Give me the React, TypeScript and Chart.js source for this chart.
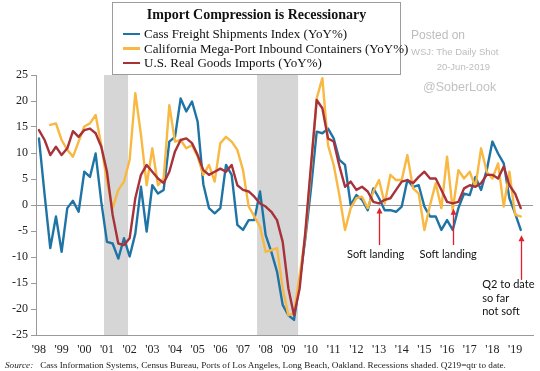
import React, { useEffect, useRef } from "react";
import { Chart, registerables } from "chart.js";

Chart.register(...registerables);

// Quarterly observations, 1998Q1 .. 2019Q2
const START_YEAR = 1998;
const QUARTER_COUNT = 86;
const quarterX: number[] = Array.from({ length: QUARTER_COUNT }, (_, i) => START_YEAR + i / 4);

const yearTicks: number[] = [1998, 1999, 2000, 2001, 2002, 2003, 2004, 2005, 2006, 2007, 2008, 2009, 2010, 2011, 2012, 2013, 2014, 2015, 2016, 2017, 2018, 2019];
const yTicks: number[] = [-25, -20, -15, -10, -5, 0, 5, 10, 15, 20, 25];

const cassFreight: (number | null)[] = [
  12.8, 2, -8.3, -2.2, -9, -0.6, 0.8, -1.3, 6.4, 5.4,
  9.9, 0.6, -7.1, -7.4, -10.3, -6.4, -9.9, -5.5, 3.5, -5.1,
  3.8, 2.2, 2.9, 12.2, 13.1, 20.5, 18, 19.9, 16, 4,
  -0.6, -1.6, -0.6, 7.7, 5.8, -3.8, -4.8, -2.9, -2.9, 2.6,
  -5.8, -9, -12.8, -19.2, -21.2, -22.1, -14.7, -6.4, 3.2, 14.1,
  13.8, 14.7, 12.8, 8.7, 7.7, 0, 1.9, 1, -1, 3.2,
  1.3, -1, -1, -1.3, -0.3, 4.8, 3.5, 3.8, -0.3, -2.2,
  -2.2, -4.8, -2.9, -4.8, -0.6, 2.2, 1.9, 5.4, 2.9, 6.7,
  12.2, 9.9, 8, 1.3, -1.6, -4.8,
];

const megaPort: (number | null)[] = [
  null, null, 15.4, 15.7, 12.5, 10.6, 9.3, 12.2, 15.1, 15.7,
  17.3, 11.5, 4.5, -0.6, 2.9, 4.5, 8.7, 21.5, 13.5, 3.8,
  10.9, 3.8, 5.1, 19.2, 12.2, 12.5, 10.9, 11.5, 9.3, 5.8,
  7.7, 4.5, 11.9, 13.1, 12.2, 10.6, 6.7, -0.3, -2.2, -4.2,
  -9, -8.7, -8.3, -16, -21.2, -20.8, -13.5, -5.8, 7, 20.5,
  24.4, 11.5, 7.7, 1.9, -4.8, -0.6, 1.3, 1.6, -0.6, 2.6,
  4.8, 0.3, 5.8, 4.8, 4.8, 9.6, 3.2, 2.2, -4.8, 0,
  4.2, -0.6, 9.3, -1, 6.7, 5.1, 6.4, 3.5, 10.9, 6.4,
  5.1, 8, -0.3, 6.4, -1.9, -2.2,
];

const realImports: (number | null)[] = [
  14.4, 12.5, 9.6, 11.2, 9.6, 10.9, 14.2, 13.1, 14.4, 14.7,
  13.8, 11.2, 6.4, -1.9, -7.4, -7.7, -6.4, 1.3, 5.8, 7.7,
  6.4, 5.1, 4.2, 6.4, 10.3, 12.5, 12.8, 11.9, 9.6, 6.7,
  5.8, 6.4, 7, 6.4, 7.7, 3.8, 2.9, 2.6, 1.6, 0.3,
  -0.3, -1.3, -2.9, -7.1, -16, -21.2, -16, -5.1, 7.7, 20.2,
  18.6, 12.8, 12.2, 7.5, 3.5, 4.5, 2.9, 3.5, 2.6, 0.6,
  0.3, 1, 1.3, 2.9, 4.5, 4.8, 4.2, 5.4, 6.4, 5.1,
  5.1, 2.9, 0.6, 0.3, 0.6, 3.2, 3.8, 3.5, 4.2, 5.8,
  5.8, 5.1, 7.4, 3.8, 2.2, -0.6,
];

const seriesNames: string[] = [
  "Cass Freight Shipments Index (YoY%)",
  "California Mega-Port Inbound Containers (YoY%)",
  "U.S. Real Goods Imports (YoY%)",
];
const seriesColors: string[] = ["#1f74a6", "#f8b842", "#a8323a"];

const recessionStart: number[] = [2000.87, 2007.62];
const recessionEnd: number[] = [2001.93, 2009.43];

const arrowX: number[] = [2013.0, 2016.26, 2019.25];
const arrowFrom: number[] = [-7.7, -7.7, -14.4];
const arrowTo: number[] = [-0.5, -0.7, -5.8];

const noteText: string[] = ["Soft landing", "Soft landing", "Q2 to date", "so far", "not soft"];
const noteX: number[] = [2012.85, 2016.05, 2017.55, 2017.55, 2017.55];
const noteY: number[] = [-9.5, -9.5, -15.2, -17.9, -20.4];
const noteAlign: CanvasTextAlign[] = ["center", "center", "left", "left", "left"];

const SERIF = "'Liberation Serif', 'DejaVu Serif', serif";
const SANS = "Lato, 'Open Sans', sans-serif";

const decorPlugin = {
  id: "decor",
  beforeDatasetsDraw(chart: any) {
    const { ctx, chartArea, scales } = chart;
    const x = scales.x;
    ctx.save();
    ctx.fillStyle = "#d6d6d6";
    recessionStart.forEach((s, i) => {
      const x0 = x.getPixelForValue(s);
      const x1 = x.getPixelForValue(recessionEnd[i]);
      ctx.fillRect(x0, chartArea.top, x1 - x0, chartArea.bottom - chartArea.top);
    });
    ctx.restore();
  },
  afterDatasetsDraw(chart: any) {
    const { ctx, scales } = chart;
    const x = scales.x;
    const y = scales.y;
    ctx.save();
    ctx.strokeStyle = "#e0202c";
    ctx.fillStyle = "#e0202c";
    ctx.lineWidth = 1.3;
    arrowX.forEach((ax, i) => {
      const px = Math.round(x.getPixelForValue(ax)) + 0.5;
      const yFrom = y.getPixelForValue(arrowFrom[i]);
      const yTo = y.getPixelForValue(arrowTo[i]);
      ctx.beginPath();
      ctx.moveTo(px, yFrom);
      ctx.lineTo(px, yTo + 4);
      ctx.stroke();
      ctx.beginPath();
      ctx.moveTo(px, yTo);
      ctx.lineTo(px - 3, yTo + 6);
      ctx.lineTo(px + 3, yTo + 6);
      ctx.closePath();
      ctx.fill();
    });
    ctx.fillStyle = "#111";
    ctx.font = `11px ${SANS}`;
    ctx.textBaseline = "middle";
    noteText.forEach((t, i) => {
      ctx.textAlign = noteAlign[i];
      ctx.fillText(t, x.getPixelForValue(noteX[i]), y.getPixelForValue(noteY[i]));
    });
    ctx.restore();
  },
};

export default function App() {
  const canvasRef = useRef<HTMLCanvasElement | null>(null);

  useEffect(() => {
    document.body.style.margin = "0";
    const canvas = canvasRef.current;
    if (!canvas) return;
    const mk = (vals: (number | null)[]) => quarterX.map((qx, i) => ({ x: qx, y: vals[i] }));
    const chart = new Chart(canvas, {
      type: "line",
      data: {
        datasets: [
          { label: seriesNames[2], data: mk(realImports) as any, borderColor: seriesColors[2] },
          { label: seriesNames[1], data: mk(megaPort) as any, borderColor: seriesColors[1] },
          { label: seriesNames[0], data: mk(cassFreight) as any, borderColor: seriesColors[0] },
        ],
      },
      options: {
        responsive: false,
        animation: false,
        events: [],
        layout: { padding: { top: 75, right: 7, left: 0, bottom: 0 } },
        elements: {
          point: { radius: 0 },
          line: { borderWidth: 2.4, tension: 0, borderCapStyle: "round", borderJoinStyle: "round" },
        },
        plugins: { legend: { display: false }, tooltip: { enabled: false } },
        scales: {
          x: {
            type: "linear",
            min: 1997.87,
            max: 2019.79,
            afterBuildTicks: (s: any) => {
              s.ticks = yearTicks.map((v) => ({ value: v }));
            },
            afterFit: (s: any) => {
              s.height = 36;
            },
            grid: { display: false, drawTicks: false },
            border: { display: true, color: "#9a9a9a", width: 1 },
            ticks: {
              padding: 8,
              maxRotation: 0,
              autoSkip: false,
              color: "#222",
              font: { family: SERIF, size: 12 },
              callback: (v: any) => "'" + String(Number(v) % 100).padStart(2, "0"),
            },
          },
          y: {
            min: -25,
            max: 25,
            afterBuildTicks: (s: any) => {
              s.ticks = yTicks.map((v) => ({ value: v }));
            },
            afterFit: (s: any) => {
              s.width = 36;
            },
            grid: {
              display: true,
              drawTicks: true,
              tickLength: 5,
              tickColor: "#9a9a9a",
              color: (c: any) => (c.tick && c.tick.value === 0 ? "#9a9a9a" : "rgba(0,0,0,0)"),
              lineWidth: 1,
            },
            border: { display: true, color: "#9a9a9a", width: 1 },
            ticks: {
              padding: 3,
              color: "#222",
              font: { family: SERIF, size: 12 },
              callback: (v: any) => String(v),
            },
          },
        },
      },
      plugins: [decorPlugin],
    });
    return () => chart.destroy();
  }, []);

  const legendRows = [0, 1, 2];

  return (
    <div style={{ position: "relative", width: 540, height: 371, background: "#fff", overflow: "hidden" }}>
      <canvas ref={canvasRef} width={540} height={371} style={{ position: "absolute", left: 0, top: 0 }} />
      <div
        style={{
          position: "absolute",
          left: 112,
          top: 2,
          width: 289,
          height: 73,
          boxSizing: "border-box",
          border: "1.5px solid #9c9c9c",
          background: "#fff",
          fontFamily: SERIF,
          color: "#111",
        }}
      >
        <div style={{ position: "absolute", left: 0, right: 0, top: 4, textAlign: "center", fontWeight: "bold", fontSize: 14, lineHeight: "16px" }}>
          Import Compression is Recessionary
        </div>
        {legendRows.map((i) => (
          <div key={i} style={{ position: "absolute", left: 10, top: 23 + i * 14.5, height: 16, display: "flex", alignItems: "center", whiteSpace: "nowrap" }}>
            <span style={{ display: "inline-block", width: 17, height: 2.5, background: seriesColors[i], marginRight: 4 }} />
            <span style={{ fontSize: 13, lineHeight: "16px" }}>{seriesNames[i]}</span>
          </div>
        ))}
      </div>
      <div style={{ position: "absolute", left: 411, top: 27, fontFamily: "'Liberation Sans', Arial, sans-serif", fontSize: 12, color: "#bdbdbd", lineHeight: "16px" }}>Posted on</div>
      <div style={{ position: "absolute", left: 411, top: 45, fontFamily: "'Liberation Sans', Arial, sans-serif", fontSize: 9.5, color: "#bdbdbd", lineHeight: "14px" }}>WSJ: The Daily Shot</div>
      <div style={{ position: "absolute", right: 50, top: 60, fontFamily: "'Liberation Sans', Arial, sans-serif", fontSize: 9.5, color: "#bdbdbd", lineHeight: "14px" }}>20-Jun-2019</div>
      <div style={{ position: "absolute", left: 423, top: 79, fontFamily: "'Liberation Sans', Arial, sans-serif", fontSize: 12.5, color: "#c2c2c2", lineHeight: "16px" }}>@SoberLook</div>
      <div style={{ position: "absolute", left: 5, top: 359, fontFamily: SERIF, fontSize: 9.2, color: "#222", whiteSpace: "nowrap", lineHeight: "12px" }}>
        <i>Source:</i>&nbsp;&nbsp; Cass Information Systems, Census Bureau, Ports of Los Angeles, Long Beach, Oakland. Recessions shaded. Q219=qtr to date.
      </div>
    </div>
  );
}
